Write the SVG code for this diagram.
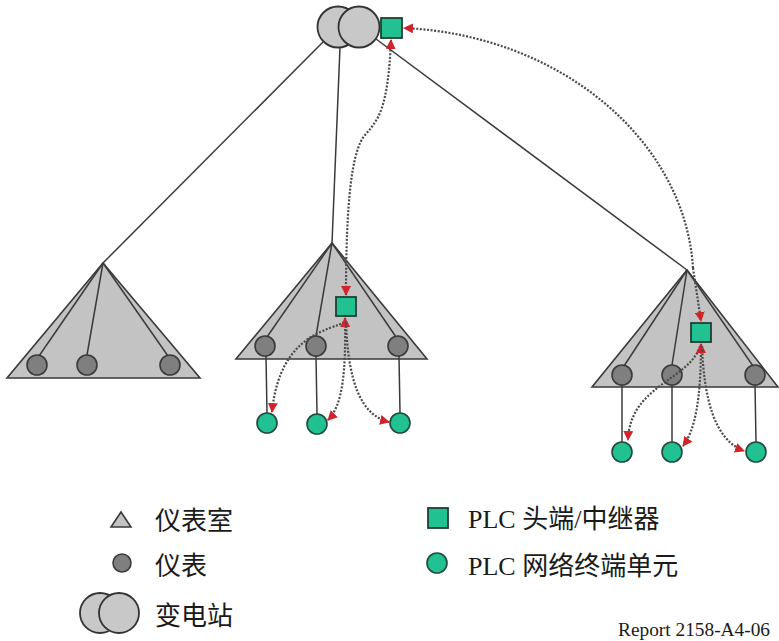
<svg xmlns="http://www.w3.org/2000/svg" width="779" height="641" viewBox="0 0 779 641">
<defs>
<style>
.tri{fill:#c3c3c3;stroke:#3a3a3a;stroke-width:1.6}
.ln{fill:none;stroke:#3a3a3a;stroke-width:1.5}
.meter{fill:#7f7f7f;stroke:#3a3a3a;stroke-width:1.6}
.term{fill:#22c192;stroke:#1f4a3c;stroke-width:1.6}
.head{fill:#22c192;stroke:#1f3f34;stroke-width:1.8}
.sub{fill:#c8c8c8;stroke:#333;stroke-width:1.8}
.dot{fill:none;stroke:#4a4a4a;stroke-width:2.2;stroke-dasharray:2 1.6}
.lbl{font-family:"Liberation Serif","Noto Sans CJK SC",serif;font-size:26px;fill:#1a1a1a}
.rep{font-family:"Liberation Serif",serif;font-size:18px;fill:#1a1a1a}
</style>
<marker id="ah" viewBox="0 0 10 10" refX="9" refY="5" markerUnits="userSpaceOnUse" markerWidth="10" markerHeight="10" orient="auto-start-reverse">
<path d="M0,0 L10,5 L0,10 z" fill="#d0242c"/>
</marker>
</defs>
<rect width="779" height="641" fill="#fff"/>

<g id="room-left">
<polygon class="tri" points="103,263 7,378 200,378"/>
<line class="ln" x1="103" y1="263" x2="39" y2="356"/>
<line class="ln" x1="103" y1="263" x2="87" y2="355"/>
<line class="ln" x1="103" y1="263" x2="168" y2="356"/>
<circle class="meter" cx="37" cy="365" r="10"/>
<circle class="meter" cx="87" cy="365" r="10"/>
<circle class="meter" cx="170" cy="365" r="10"/>
</g>

<g id="room-middle">
<polygon class="tri" points="332,243 236,359 427,359"/>
<line class="ln" x1="332" y1="243" x2="267" y2="337"/>
<line class="ln" x1="332" y1="243" x2="316" y2="336"/>
<line class="ln" x1="332" y1="243" x2="396" y2="337"/>
<circle class="meter" cx="265" cy="346" r="10"/>
<circle class="meter" cx="316" cy="346" r="10"/>
<circle class="meter" cx="398" cy="346" r="10"/>
<line class="ln" x1="266" y1="356" x2="267" y2="413"/>
<line class="ln" x1="316" y1="356" x2="317" y2="414"/>
<line class="ln" x1="399" y1="356" x2="400" y2="413"/>
<rect class="head" x="336" y="297" width="20" height="19"/>
</g>
<g id="term-m1"><circle class="term" cx="267" cy="423" r="10"/></g>
<g id="term-m2"><circle class="term" cx="317" cy="424" r="10"/></g>
<g id="term-m3"><circle class="term" cx="400" cy="423" r="10"/></g>

<g id="room-right">
<polygon class="tri" points="687,270 592,387 778,387"/>
<line class="ln" x1="687" y1="270" x2="624" y2="366"/>
<line class="ln" x1="687" y1="270" x2="672" y2="365"/>
<line class="ln" x1="687" y1="270" x2="753" y2="366"/>
<circle class="meter" cx="622" cy="375" r="10"/>
<circle class="meter" cx="672" cy="375" r="10"/>
<circle class="meter" cx="755" cy="375" r="10"/>
<line class="ln" x1="622" y1="385" x2="622" y2="442"/>
<line class="ln" x1="672" y1="385" x2="672" y2="442"/>
<line class="ln" x1="755" y1="385" x2="756" y2="442"/>
<rect class="head" x="691" y="323" width="20" height="19"/>
</g>
<g id="term-r1"><circle class="term" cx="622" cy="452" r="10"/></g>
<g id="term-r2"><circle class="term" cx="672" cy="452" r="10"/></g>
<g id="term-r3"><circle class="term" cx="756" cy="452" r="10"/></g>

<g id="substation">
<circle class="sub" cx="338" cy="27" r="20.5"/>
<circle class="sub" cx="359" cy="27" r="20.5"/>
</g>
<g id="headend-top"><rect class="head" x="381" y="18" width="21" height="20"/></g>

<g id="connectors">
<line class="ln" x1="323" y1="42" x2="103" y2="263"/>
<line class="ln" x1="340" y1="47" x2="332" y2="243"/>
<line class="ln" x1="376" y1="39" x2="687" y2="270"/>
<path class="dot" d="M693,268 C685,140 560,35 404,28" marker-end="url(#ah)"/>
<path class="dot" d="M693,268 L701,321" marker-end="url(#ah)"/>
<path class="dot" d="M346,295 C346,200 352,150 365,135 C378,120 388,110 391,40" marker-start="url(#ah)" marker-end="url(#ah)"/>
<path class="dot" d="M344,322 C335,330 280,330 272,412" marker-end="url(#ah)"/>
<path class="dot" d="M345,318 C346,370 343,405 328,420" marker-start="url(#ah)" marker-end="url(#ah)"/>
<path class="dot" d="M346,322 C348,380 360,415 389,422" marker-end="url(#ah)"/>
<path class="dot" d="M700,346 C690,380 630,385 628,440" marker-end="url(#ah)"/>
<path class="dot" d="M701,344 C701,400 695,430 683,446" marker-start="url(#ah)" marker-end="url(#ah)"/>
<path class="dot" d="M702,346 C704,400 715,440 744,451" marker-end="url(#ah)"/>
</g>

<g id="legend">
<polygon class="tri" points="121,512 111,527 131,527"/>
<text class="lbl" x="155" y="530">仪表室</text>
<circle class="meter" cx="122" cy="563" r="9"/>
<text class="lbl" x="155" y="575">仪表</text>
<circle class="sub" cx="100" cy="613" r="20"/>
<circle class="sub" cx="119" cy="613" r="20"/>
<text class="lbl" x="155" y="625">变电站</text>
<rect class="head" x="428" y="508" width="20" height="20"/>
<text class="lbl" x="468" y="528">PLC 头端/中继器</text>
<circle class="term" cx="437" cy="563" r="10"/>
<text class="lbl" x="468" y="575">PLC 网络终端单元</text>
<text class="rep" x="618" y="636" textLength="152" lengthAdjust="spacingAndGlyphs">Report 2158-A4-06</text>
</g>
</svg>
